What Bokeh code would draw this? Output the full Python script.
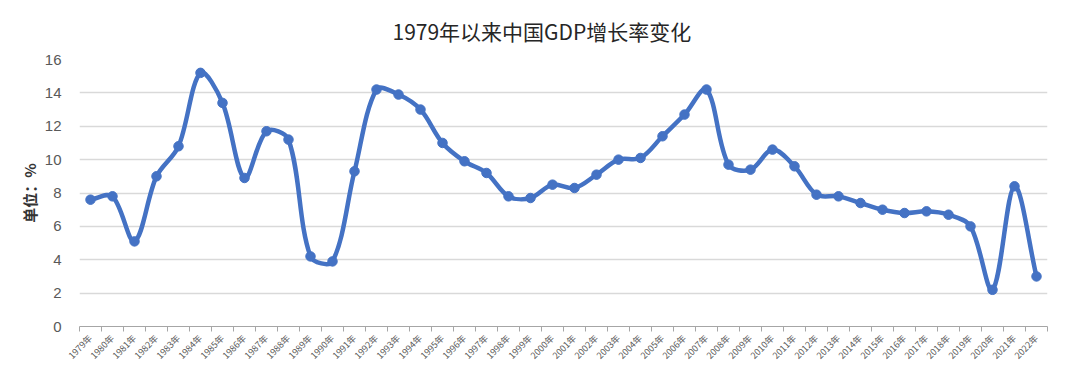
import numpy as np
from bokeh.plotting import figure
from bokeh.models import FixedTicker, Range1d
from bokeh.embed import file_html
from bokeh.resources import INLINE

years = ["1979年", "1980年", "1981年", "1982年", "1983年", "1984年", "1985年", "1986年",
         "1987年", "1988年", "1989年", "1990年", "1991年", "1992年", "1993年", "1994年",
         "1995年", "1996年", "1997年", "1998年", "1999年", "2000年", "2001年", "2002年",
         "2003年", "2004年", "2005年", "2006年", "2007年", "2008年", "2009年", "2010年",
         "2011年", "2012年", "2013年", "2014年", "2015年", "2016年", "2017年", "2018年",
         "2019年", "2020年", "2021年", "2022年"]
growth = [7.6, 7.8, 5.1, 9.0, 10.8, 15.2, 13.4, 8.9, 11.7, 11.2, 4.2, 3.9, 9.3, 14.2,
          13.9, 13.0, 11.0, 9.9, 9.2, 7.8, 7.7, 8.5, 8.3, 9.1, 10.0, 10.1, 11.4, 12.7,
          14.2, 9.7, 9.4, 10.6, 9.6, 7.9, 7.8, 7.4, 7.0, 6.8, 6.9, 6.7, 6.0, 2.2, 8.4, 3.0]
y_ticks = [0, 2, 4, 6, 8, 10, 12, 14, 16]
title_text = "1979年以来中国GDP增长率变化"

BLUE = "#4472C4"
CJK = "Noto Sans CJK SC"

W, H = 1080, 379
BL, BR, BT, BB = 79, 33, 59, 53
n = len(years)
YMAX = 16

xs = np.arange(n, dtype=float)
ys = np.array(growth, dtype=float)

# Excel-like smoothing: Bezier control points with tangents scaled by
# neighbouring segment lengths (measured in screen pixels)
sx = (W - BL - BR) / n
sy = (H - BT - BB) / YMAX
xp = np.concatenate([[xs[0]], xs, [xs[-1]]])
yp = np.concatenate([[ys[0]], ys, [ys[-1]]])
seg = np.hypot(np.diff(xp) * sx, np.diff(yp) * sy)
f = 1.0 / 3.0
x0, y0, x1, y1 = xs[:-1], ys[:-1], xs[1:], ys[1:]
cx0, cy0, cx1, cy1 = [], [], [], []
for i in range(n - 1):
    a, b = seg[i], seg[i + 1]
    r = b / (a + b) if (a + b) > 0 else 0.5
    tx = (xp[i + 2] - xp[i]); ty = (yp[i + 2] - yp[i])
    cx0.append(xs[i] + tx * f * r); cy0.append(ys[i] + ty * f * r)
    a2, b2 = seg[i + 1], seg[i + 2]
    r2 = a2 / (a2 + b2) if (a2 + b2) > 0 else 0.5
    tx2 = (xp[i + 3] - xp[i + 1]); ty2 = (yp[i + 3] - yp[i + 1])
    cx1.append(xs[i + 1] - tx2 * f * r2); cy1.append(ys[i + 1] - ty2 * f * r2)

p = figure(width=W, height=H, output_backend="svg", toolbar_location=None,
           x_range=Range1d(-0.5, n - 0.5), y_range=Range1d(0, YMAX),
           min_border_left=BL, min_border_right=BR, min_border_top=BT, min_border_bottom=BB)
p.outline_line_color = None
p.background_fill_color = "white"
p.border_fill_color = "white"

p.title.text = title_text
p.title.align = "left"
p.title.offset = 313
p.title.text_font = CJK
p.title.text_font_size = "21px"
p.title.text_font_style = "normal"
p.title.text_color = "#262626"
p.title.standoff = 27

p.bezier(x0=x0, y0=y0, x1=x1, y1=y1, cx0=cx0, cy0=cy0, cx1=cx1, cy1=cy1,
         line_color=BLUE, line_width=4.5)
p.scatter(xs, ys, size=9.5, fill_color=BLUE, line_color=BLUE)

# y axis
p.yaxis.ticker = FixedTicker(ticks=y_ticks)
p.yaxis.axis_line_color = None
p.yaxis.major_tick_line_color = None
p.yaxis.minor_tick_line_color = None
p.yaxis.major_label_text_font = "Liberation Sans"
p.yaxis.major_label_text_font_size = "15px"
p.yaxis.major_label_text_color = "#595959"
p.yaxis.major_label_standoff = 12
p.yaxis.axis_label = "单位：%"
p.yaxis.axis_label_text_font = CJK
p.yaxis.axis_label_text_font_size = "15px"
p.yaxis.axis_label_text_font_style = "bold"
p.yaxis.axis_label_text_color = "#333333"
p.yaxis.axis_label_standoff = 2

p.ygrid.ticker = FixedTicker(ticks=y_ticks)
p.ygrid.grid_line_color = "#d9d9d9"
p.ygrid.grid_line_width = 1.5
p.xgrid.grid_line_color = None

# x axis
p.xaxis.ticker = FixedTicker(ticks=list(range(n)),
                             minor_ticks=[i - 0.5 for i in range(n + 1)])
p.xaxis.major_label_overrides = {i: years[i] for i in range(n)}
p.xaxis.major_label_orientation = np.pi / 4
p.xaxis.major_label_text_font = CJK
p.xaxis.major_label_text_font_size = "9px"
p.xaxis.major_label_text_color = "#595959"
p.xaxis.major_label_standoff = 4
p.xaxis.major_tick_line_color = None
p.xaxis.minor_tick_line_color = "#a6a6a6"
p.xaxis.minor_tick_in = 0
p.xaxis.minor_tick_out = 5
p.xaxis.axis_line_color = "#a6a6a6"
p.xaxis.axis_line_width = 1

open("out.html", "w").write(file_html(p, INLINE))
